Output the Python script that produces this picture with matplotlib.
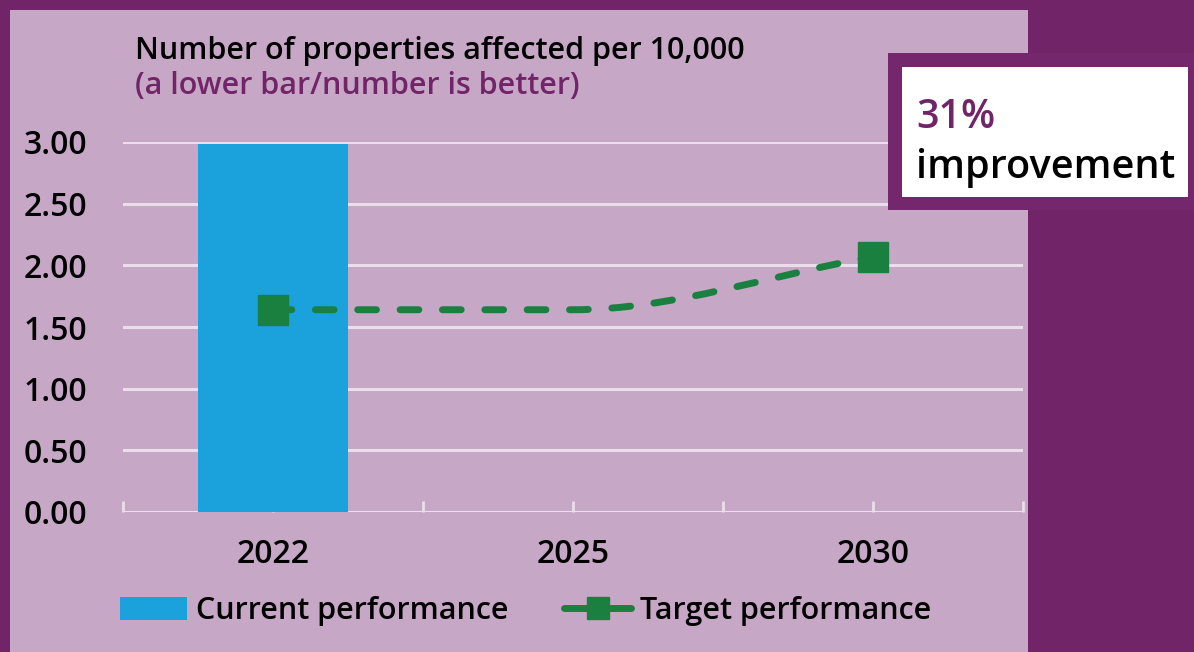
import numpy as np
import matplotlib
matplotlib.use("Agg")
import matplotlib.pyplot as plt
from matplotlib.path import Path
from matplotlib.patches import PathPatch, Rectangle
from matplotlib.lines import Line2D

plt.rcParams['font.family'] = ['Open Sans', 'DejaVu Sans']
plt.rcParams['font.weight'] = 'semibold'

# data
years = ['2022', '2025', '2030']
current = [2.98, None, None]
target = [1.64, 1.64, 2.07]
y_ticks = [0.0, 0.5, 1.0, 1.5, 2.0, 2.5, 3.0]
improvement = '31%'

purple = '#722469'
panel = '#c7a7c6'
blue = '#1ba1dc'
green = '#1a8040'
grid_col = '#ebdeeb'

fig = plt.figure(figsize=(11.94, 6.52), dpi=100)
fig.patch.set_facecolor(purple)

# light panel behind the chart
fig.add_artist(Rectangle((10 / 1194, 0), 1018 / 1194, 642 / 652,
                         transform=fig.transFigure, facecolor=panel,
                         edgecolor='none', zorder=0))

ax = fig.add_axes([123 / 1194, 140 / 652, 900 / 1194, 370 / 652])
ax.set_facecolor('none')
for s in ax.spines.values():
    s.set_visible(False)

x = np.arange(len(years))
ax.set_xlim(-0.5, 2.5)
ax.set_ylim(0, 3.0)

for v in y_ticks:
    ax.axhline(v, color=grid_col, lw=2.2, zorder=1)

# bar
bar_x = [i for i, v in enumerate(current) if v is not None]
bar_v = [v for v in current if v is not None]
ax.bar(bar_x, bar_v, width=0.5, color=blue, zorder=2)

# smoothed dashed target line (monotone cubic -> bezier)
px = x.astype(float)
py = np.array(target, dtype=float)
sec = np.diff(py) / np.diff(px)
m = np.zeros_like(py)
m[0], m[-1] = sec[0], sec[-1]
for i in range(1, len(py) - 1):
    if sec[i - 1] * sec[i] > 0:
        m[i] = 2 / (1 / sec[i - 1] + 1 / sec[i])
verts = [(px[0], py[0])]
codes = [Path.MOVETO]
for i in range(len(px) - 1):
    h = px[i + 1] - px[i]
    verts += [(px[i] + h / 3, py[i] + m[i] * h / 3),
              (px[i + 1] - h / 3, py[i + 1] - m[i + 1] * h / 3),
              (px[i + 1], py[i + 1])]
    codes += [Path.CURVE4] * 3
patch = PathPatch(Path(verts, codes), facecolor='none', edgecolor=green,
                  lw=5, linestyle=(0, (2.7, 3.4)),
                  transform=ax.transData, zorder=3)
patch.set_capstyle('round')
ax.add_patch(patch)
ax.plot(x, target, ls='none', marker='s', ms=21, color=green,
        markevery=[0, 2], zorder=4, clip_on=False)

# ticks
ax.set_xticks(x)
ax.set_xticklabels(years)
ax.set_xticks(np.arange(-0.5, 2.6, 1.0), minor=True)
ax.tick_params(axis='x', which='both', direction='in', length=8, width=2,
               color=grid_col, pad=19, labelsize=23)
ax.set_yticks(y_ticks)
ax.set_yticklabels([f'{v:.2f}' for v in y_ticks])
ax.tick_params(axis='y', length=0, pad=26, labelsize=23)

# titles
fig.text(135 / 1194, 1 - 59 / 652, 'Number of properties affected per 10,000',
         fontsize=22, color='black', va='baseline', ha='left')
fig.text(135 / 1194, 1 - 94 / 652, '(a lower bar/number is better)',
         fontsize=22, color=purple, va='baseline', ha='left')

# legend
handles = [Rectangle((0, 0), 1, 1, facecolor=blue),
           Line2D([], [], color=green, lw=5, marker='s', ms=16,
                  solid_capstyle='round')]
ax.legend(handles, ['Current performance', 'Target performance'],
          loc='center left', bbox_to_anchor=(120 / 1194, 41 / 652),
          bbox_transform=fig.transFigure, ncol=2, frameon=False,
          fontsize=22, handlelength=2.2, handleheight=0.75,
          handletextpad=0.3, columnspacing=1.8, borderpad=0,
          borderaxespad=0)

# improvement box
fig.add_artist(Rectangle((888 / 1194, 1 - 210 / 652), 306 / 1194, 157 / 652,
                         transform=fig.transFigure, facecolor='#75276d',
                         edgecolor='none', zorder=5))
fig.add_artist(Rectangle((902 / 1194, 1 - 197 / 652), 286 / 1194, 130 / 652,
                         transform=fig.transFigure, facecolor='white',
                         edgecolor='none', zorder=6))
fig.text(916 / 1194, 1 - 128 / 652, improvement, fontsize=28.5, color=purple,
         va='baseline', ha='left', zorder=7)
fig.text(916 / 1194, 1 - 178 / 652, 'improvement', fontsize=28.5, color='black',
         va='baseline', ha='left', zorder=7)

fig.savefig('out.png', dpi=100, facecolor=fig.get_facecolor())
